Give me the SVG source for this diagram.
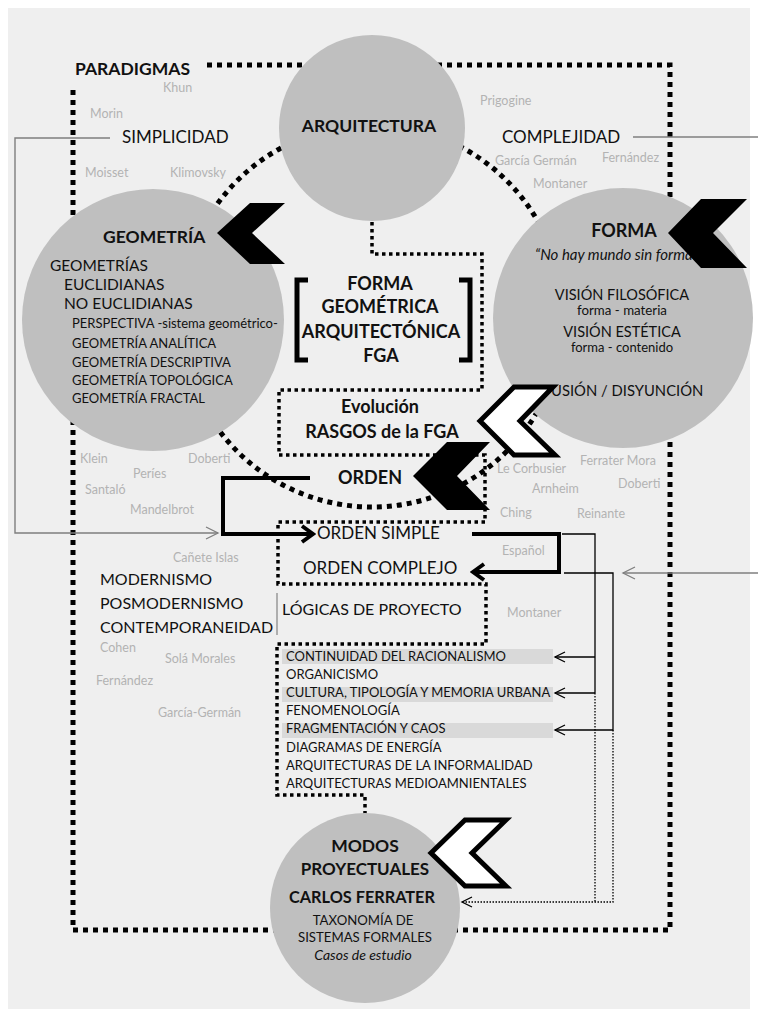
<svg xmlns="http://www.w3.org/2000/svg" width="758" height="1017" viewBox="0 0 758 1017">
<defs>
<style>
text{font-family:Lato,"Liberation Sans",sans-serif;fill:#111}
.b{font-weight:bold}
.m{text-anchor:middle}
.g{fill:#b3b3b3;font-size:12.5px}
.circ{fill:#bfbfbf}
.dotBig{fill:none;stroke:#000;stroke-width:5;stroke-dasharray:5 5}
.dotSm{fill:none;stroke:#000;stroke-width:3.5;stroke-dasharray:3.5 3.5}
.thick{fill:none;stroke:#000;stroke-width:4}
.thin{fill:none;stroke:#000;stroke-width:1.3}
.thinDot{fill:none;stroke:#000;stroke-width:1.3;stroke-dasharray:1.5 1.5}
.grey{fill:none;stroke:#7f7f7f;stroke-width:1.4}
.chevB{fill:#000}
.chevO{fill:#fff;stroke:#000;stroke-width:5;stroke-linejoin:miter}
.hl{fill:#d9d9d9}
.lst{font-size:13px}
.geo{font-size:13px}
.big{font-size:16px}
</style>
<marker id="aThick" markerUnits="userSpaceOnUse" viewBox="-3 -3 17 22" markerWidth="17" markerHeight="22" refX="11" refY="8" orient="auto">
<path d="M0,0 L11,8 L0,16" fill="none" stroke="#000" stroke-width="4"/>
</marker>
<marker id="aThin" markerUnits="userSpaceOnUse" viewBox="-2 -2 14 14" markerWidth="14" markerHeight="14" refX="10" refY="5" orient="auto">
<path d="M0,0 L10,5 L0,10" fill="none" stroke="#000" stroke-width="1.3"/>
</marker>
<marker id="aGrey" markerUnits="userSpaceOnUse" viewBox="-2 -2 16 16" markerWidth="16" markerHeight="16" refX="12" refY="6" orient="auto">
<path d="M0,0 L12,6 L0,12" fill="none" stroke="#7f7f7f" stroke-width="1.3"/>
</marker>
</defs>
<rect x="0" y="0" width="758" height="1017" fill="#fff"/>
<rect x="8" y="8" width="742" height="1001" fill="#efefef"/>

<g id="frame">
<circle cx="372" cy="316" r="191" fill="#fff" class="dotBig"/>
<path class="dotBig" d="M207,65 H670 V930 H73 V87"/>
</g>

<g id="connectors">
<path class="grey" d="M110,138 H15 V533 H218" marker-end="url(#aGrey)"/>
<path class="grey" stroke="#555" d="M633,137 H758"/>
<path class="grey" d="M758,573 H623" marker-end="url(#aGrey)"/>
<path class="dotSm" d="M372,215 V254 H482 V390 H279 V455 H485 V522 H278 V584 H486 V644 H277 V795 H365 V815"/>
<path d="M277,593 V635" stroke="#999" stroke-width="1.5" fill="none"/>
<path class="thick" d="M310,478 H223 V534 H313" marker-end="url(#aThick)"/>
<path class="thick" d="M472,534 H559 V572 H473" marker-end="url(#aThick)"/>
<path class="thin" d="M562,534 H595 V693"/>
<path class="thin" d="M595,657 H555" marker-end="url(#aThin)"/>
<path class="thin" d="M595,693 H555" marker-end="url(#aThin)"/>
<path class="thin" d="M564,573 H613 V730 H555" marker-end="url(#aThin)"/>
<path class="thinDot" d="M595,693 V902"/>
<path class="thinDot" d="M613,730 V902 H462" marker-end="url(#aThin)"/>
</g>

<g id="arquitectura">
<circle class="circ" cx="372" cy="128" r="93"/>
<text class="b m" x="369" y="132" font-size="17.5">ARQUITECTURA</text>
</g>

<g id="paradigmas">
<text class="b" x="75" y="75" font-size="17.5">PARADIGMAS</text>
<text x="122" y="143" font-size="17">SIMPLICIDAD</text>
<text x="502" y="143" font-size="17">COMPLEJIDAD</text>
<text class="g" x="163" y="92">Khun</text>
<text class="g" x="90" y="118">Morin</text>
<text class="g" x="85" y="177">Moisset</text>
<text class="g" x="170" y="177">Klimovsky</text>
<text class="g" x="480" y="105">Prigogine</text>
<text class="g" x="495" y="165">García Germán</text>
<text class="g" x="602" y="162">Fernández</text>
<text class="g" x="533" y="188">Montaner</text>
<text class="g" x="80" y="463">Klein</text>
<text class="g" x="188" y="463">Doberti</text>
<text class="g" x="133" y="478">Períes</text>
<text class="g" x="85" y="494">Santaló</text>
<text class="g" x="130" y="514">Mandelbrot</text>
<text class="g" x="173" y="562">Cañete Islas</text>
<text class="g" x="497" y="473">Le Corbusier</text>
<text class="g" x="580" y="465">Ferrater Mora</text>
<text class="g" x="532" y="493">Arnheim</text>
<text class="g" x="618" y="488">Doberti</text>
<text class="g" x="500" y="517">Ching</text>
<text class="g" x="577" y="518">Reinante</text>
<text class="g" x="502" y="555">Español</text>
<text class="g" x="507" y="617">Montaner</text>
<text class="g" x="100" y="652">Cohen</text>
<text class="g" x="165" y="663">Solá Morales</text>
<text class="g" x="96" y="685">Fernández</text>
<text class="g" x="158" y="717">García-Germán</text>
<text class="big" x="100" y="585">MODERNISMO</text>
<text class="big" x="100" y="609">POSMODERNISMO</text>
<text class="big" x="100" y="633">CONTEMPORANEIDAD</text>
</g>

<g id="geometria">
<circle class="circ" cx="153" cy="320" r="131"/>
<text class="b" x="103" y="243" font-size="17.5">GEOMETRÍA</text>
<text x="50" y="271" font-size="15.5">GEOMETRÍAS</text>
<text x="64" y="290" font-size="15.5">EUCLIDIANAS</text>
<text x="64" y="309" font-size="15.5">NO EUCLIDIANAS</text>
<text class="geo" x="72" y="328">PERSPECTIVA -sistema geométrico-</text>
<text class="geo" x="72" y="348">GEOMETRÍA ANALÍTICA</text>
<text class="geo" x="72" y="367">GEOMETRÍA DESCRIPTIVA</text>
<text class="geo" x="72" y="385">GEOMETRÍA TOPOLÓGICA</text>
<text class="geo" x="72" y="403">GEOMETRÍA FRACTAL</text>
</g>

<g id="forma">
<circle class="circ" cx="623" cy="318" r="130"/>
<text class="b m" x="624" y="237" font-size="18">FORMA</text>
<text x="535" y="260" font-size="15" font-style="italic">“No hay mundo sin forma”</text>
<text class="m" x="622" y="300" font-size="14.5">VISIÓN FILOSÓFICA</text>
<text class="m" x="622" y="315" font-size="13.3">forma - materia</text>
<text class="m" x="622" y="337" font-size="14.5">VISIÓN ESTÉTICA</text>
<text class="m" x="622" y="352" font-size="13">forma - contenido</text>
<text class="m" x="623" y="396" font-size="14.8">FUSIÓN / DISYUNCIÓN</text>
</g>

<g id="fga">
<path d="M308,280 H297 V360 H308 M459,280 H470 V360 H459" fill="none" stroke="#000" stroke-width="5"/>
<text class="b m" x="380" y="290" font-size="18">FORMA</text>
<text class="b m" x="380" y="313" font-size="18">GEOMÉTRICA</text>
<text class="b m" x="381" y="338" font-size="18">ARQUITECTÓNICA</text>
<text class="b m" x="381" y="362" font-size="18">FGA</text>
</g>

<g id="evolucion">
<text class="b m" x="380" y="413" font-size="18">Evolución</text>
<text class="b m" x="382" y="438" font-size="18">RASGOS de la FGA</text>
</g>

<g id="orden">
<text class="b m" x="370" y="484" font-size="18">ORDEN</text>
</g>

<g id="orden-simple">
<text x="317" y="539" font-size="17">ORDEN SIMPLE</text>
</g>
<g id="orden-complejo">
<text x="303" y="574" font-size="17">ORDEN COMPLEJO</text>
</g>
<g id="logicas">
<text x="282" y="615" font-size="16">LÓGICAS DE PROYECTO</text>
</g>

<g id="lista">
<rect class="hl" x="282" y="649" width="271" height="15"/>
<rect class="hl" x="282" y="687" width="271" height="15"/>
<rect class="hl" x="282" y="723" width="271" height="15"/>
<text class="lst" x="286" y="661">CONTINUIDAD DEL RACIONALISMO</text>
<text class="lst" x="286" y="679">ORGANICISMO</text>
<text class="lst" x="286" y="697">CULTURA, TIPOLOGÍA Y MEMORIA URBANA</text>
<text class="lst" x="286" y="715">FENOMENOLOGÍA</text>
<text class="lst" x="286" y="733">FRAGMENTACIÓN Y CAOS</text>
<text class="lst" x="286" y="752">DIAGRAMAS DE ENERGÍA</text>
<text class="lst" x="286" y="770">ARQUITECTURAS DE LA INFORMALIDAD</text>
<text class="lst" x="286" y="788">ARQUITECTURAS MEDIOAMNIENTALES</text>
</g>

<g id="modos">
<circle class="circ" cx="365" cy="908" r="95"/>
<text class="b m" x="365" y="852" font-size="17.5">MODOS</text>
<text class="b m" x="365" y="875" font-size="17">PROYECTUALES</text>
<text class="b m" x="362" y="903" font-size="16.3">CARLOS FERRATER</text>
<text class="m" x="363" y="925" font-size="13.2">TAXONOMÍA DE</text>
<text class="m" x="365" y="942" font-size="13.2">SISTEMAS FORMALES</text>
<text class="m" x="363" y="960" font-size="14" font-style="italic">Casos de estudio</text>
</g>

<g id="chevrons">
<polygon class="chevB" points="217,233 250,203 285,203 252,233 285,264 250,264"/>
<polygon class="chevB" points="668,233 701,199 747,199 713,233 747,268 701,268"/>
<polygon class="chevB" points="413,476 447,442 490,442 457,476 490,510 447,510"/>
<polygon class="chevO" points="480,421 514,387 553,387 520,421 555,455 514,455"/>
<polygon class="chevO" points="431,853 465,820 506,820 472,853 506,886 465,886"/>
</g>
</svg>
